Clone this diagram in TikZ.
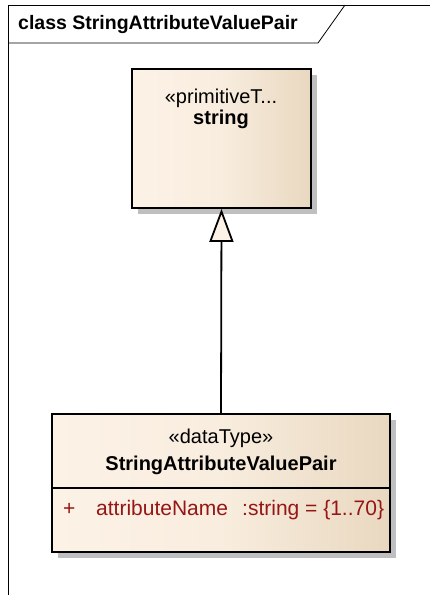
\documentclass[tikz,border=0pt]{standalone}
\usepackage{fontspec}
\usepackage{tikz}
\usepackage{xcolor}
\usetikzlibrary{arrows.meta}
\usetikzlibrary{shadows}
\setmainfont{Liberation Sans}
\definecolor{umllight}{RGB}{252,242,230}
\definecolor{umldark}{RGB}{233,216,192}
\definecolor{umlred}{RGB}{150,22,22}
\tikzset{
  classbox/.style={draw, line width=1.8pt, shape=rectangle, inner sep=0pt,
    left color=umllight, right color=umldark, middle color=umllight!80!umldark,
    drop shadow={shadow xshift=6pt, shadow yshift=-6pt, fill=black!25, opacity=1}},
  umltext/.style={inner sep=0pt, font=\fontsize{20pt}{22pt}\selectfont},
  titletext/.style={inner sep=0pt, font=\fontsize{19.5pt}{22pt}\selectfont\bfseries},
  attrtext/.style={inner sep=0pt, text=umlred, anchor=base west, font=\fontsize{21pt}{23pt}\selectfont}
}
\begin{document}
\begin{tikzpicture}[x=1pt,y=-1pt]
\useasboundingbox (0,0) rectangle (430,595);
% frame
\draw [line width=0.8pt] (8,595) -- (8,5) -- (430,5);
\draw [line width=0.8pt] (8,43) -- (318,43) -- (345,5);
\node[titletext, anchor=west] (title) at (18,24) {class StringAttributeValuePair};
% primitive type
\node[classbox, minimum width=179pt, minimum height=139pt] (prim) at (221.5,138.5) {};
\node[umltext] (primst) at (221,98) {«primitiveT...};
\node[umltext] (primname) at (221,119) {\textbf{string}};
% data type
\node[classbox, minimum width=338pt, minimum height=138pt] (dt) at (221,483) {};
\draw [line width=1.8pt] (dt.west |- 0,488) -- (dt.east |- 0,488);
\node[umltext] (dtst) at (221,438) {«dataType»};
\node[umltext] (dtname) at (221,465) {\textbf{StringAttributeValuePair}};
\node[attrtext] (vis) at (63,515) {+};
\node[attrtext] (attr) at (96,515) {attributeName};
\node[attrtext] (attrtype) at (242,515) {:string = \{1..70\}};
% generalization
\draw [line width=1.8pt, -{Triangle[length=33pt, width=24pt, fill=umllight, line width=1.8pt]}] (dt.north) -- (prim.south);
\end{tikzpicture}
\end{document}
